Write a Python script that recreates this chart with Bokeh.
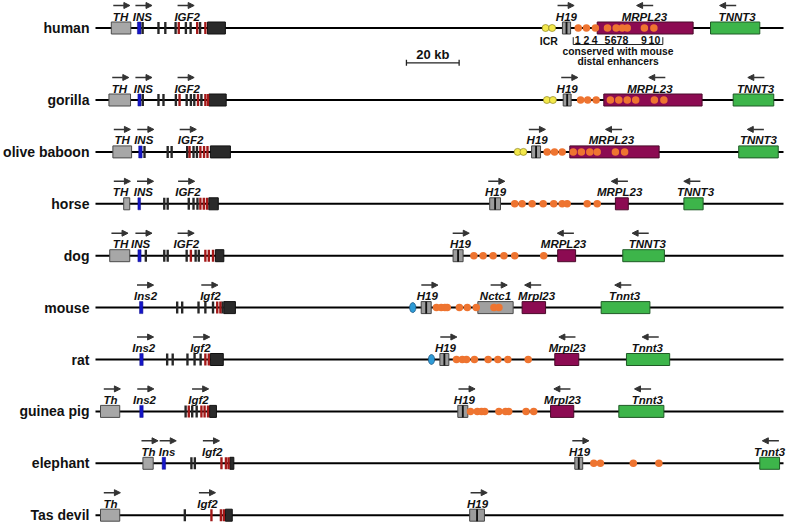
from bokeh.plotting import figure
from bokeh.models import Range1d, ColumnDataSource, Arrow, NormalHead
from bokeh.embed import file_html
from bokeh.resources import INLINE
from bokeh.core.properties import value

# ---------------- data (positions in kb from the left end of each locus) ----------------
species = ["human", "gorilla", "olive baboon", "horse", "dog",
           "mouse", "rat", "guinea pig", "elephant", "Tas devil"]
locus_len = 261.1
scale_kb = 20
scale_start = 118.0

th_start = [6.0, 5.1, 6.6, 10.7, 5.4, None, None, 1.9, 18.0, 1.9]
th_end   = [13.4, 13.3, 13.7, 13.0, 13.0, None, None, 9.2, 21.9, 9.2]
ins_start = [15.9, 16.1, 16.4, 16.1, 16.1, 16.7, 16.8, 16.8, 25.3, None]
ins_end   = [17.3, 17.3, 17.7, 17.1, 17.3, 18.0, 18.1, 18.1, 26.6, None]
igf2_last_start = [42.5, 43.0, 43.6, 43.0, 45.5, 48.7, 43.6, 43.3, 51.0, 49.3]
igf2_last_end   = [49.3, 49.6, 51.2, 46.6, 48.7, 53.1, 48.5, 45.9, 52.5, 51.9]
h19_start = [177.2, 177.5, 165.5, 149.6, 135.7, 123.6, 130.7, 137.5, 181.9, 142.0]
h19_end   = [180.3, 180.5, 168.9, 153.7, 139.5, 127.4, 134.1, 141.3, 184.9, 147.6]
mrpl23_start = [190.4, 192.9, 180.0, 197.3, 175.4, 161.9, 174.3, 172.7, None, None]
mrpl23_end   = [226.8, 230.2, 213.9, 202.2, 182.2, 170.8, 183.4, 181.5, None, None]
tnnt3_start = [233.4, 242.0, 244.1, 223.3, 200.1, 191.9, 201.5, 198.6, 252.1, None]
tnnt3_end   = [252.1, 257.4, 259.1, 230.6, 215.9, 210.4, 217.9, 215.7, 259.6, None]
nctc1_start = [None, None, None, None, None, 145.1, None, None, None, None]
nctc1_end   = [None, None, None, None, None, 158.5, None, None, None, None]

exon_black = [
    [17.9, 23.9, 26.5, 30.4, 34.3, 36.1, 39.7],
    [17.95, 23.9, 25.8, 30.5, 34.6, 36.2, 37.5, 40.2],
    [18.6, 27.4, 28.9, 34.8, 37.2, 38.5],
    [26.1, 27.4, 35.4, 37.2, 38.7],
    [19.1, 26.1, 27.4, 34.6, 38.0, 39.2],
    [31.0, 32.9, 39.1, 41.7, 44.6, 48.2],
    [27.2, 29.3, 34.9, 37.6, 39.9],
    [34.2, 36.7, 38.4],
    [36.4, 37.7],
    [33.9],
]
exon_red = [
    [31.6, 38.6, 41.7],
    [31.9, 38.9, 41.7, 42.7],
    [35.7, 39.8, 41.2, 42.5],
    [39.8, 41.1, 42.3],
    [36.2, 41.7, 43.0, 44.6],
    [46.2, 47.4],
    [41.7, 43.0],
    [35.4, 40.2, 41.4, 42.7],
    [47.8, 49.5, 50.5],
    [44.0, 47.6, 48.7],
]
enhancers = [
    [183.2, 186.3, 189.7, 194.3, 197.6, 199.9, 201.8, 208.3, 211.9],
    [184.1, 186.8, 190.0, 195.4, 198.6, 201.8, 205.0, 212.1, 215.7],
    [171.4, 174.2, 177.1, 181.3, 184.4, 187.6, 190.4, 197.3, 200.8],
    [159.1, 161.9, 165.7, 169.9, 173.9, 177.1, 179.0, 186.6, 190.4],
    [143.6, 147.1, 150.9, 155.0, 159.1, 170.1],
    [129.4, 131.2, 132.6, 133.5, 138.1, 141.1, 144.5, 151.2, 153.1],
    [137.0, 139.2, 140.8, 143.8, 149.0, 152.7, 156.5, 164.2],
    [142.3, 144.9, 146.5, 147.7, 153.1, 155.6, 156.8, 163.4, 166.3],
    [189.1, 191.6, 204.1, 213.8],
    [],
]
icr_sites = [[170.8, 173.3], [171.3, 173.6], [160.2, 162.4], [], [], [], [], [], [], []]
ctcf_site = [None, None, None, None, None, 120.4, 127.5, None, None, None]

enh_numbers = ["1", "2", "4", "5", "6", "7", "8", "9", "10"]
enh_number_x = [183.0, 186.3, 189.4, 194.3, 196.6, 198.8, 201.1, 208.1, 212.1]

# gene labels: (text, label centre, arrow centre, direction)
gene_labels = [
    [("TH", 9.5, 9.9, 1), ("INS", 17.8, 18.3, 1), ("IGF2", 34.8, 34.3, 1),
     ("H19", 178.7, 178.5, 1), ("MRPL23", 208.3, 208.5, -1), ("TNNT3", 243.5, 240.0, -1)],
    [("TH", 9.1, 9.5, 1), ("INS", 18.2, 18.3, 1), ("IGF2", 34.8, 34.3, 1),
     ("H19", 179.0, 179.9, 1), ("MRPL23", 210.4, 213.1, -1), ("TNNT3", 250.5, 250.7, -1)],
    [("TH", 10.1, 10.1, 1), ("INS", 18.3, 19.0, 1), ("IGF2", 36.1, 35.1, 1),
     ("H19", 167.6, 167.6, 1), ("MRPL23", 195.8, 196.7, -1), ("TNNT3", 251.6, 250.5, -1)],
    [("TH", 9.5, 10.1, 1), ("INS", 18.2, 18.9, 1), ("IGF2", 35.1, 34.5, 1),
     ("H19", 151.8, 152.2, 1), ("MRPL23", 198.9, 198.9, -1), ("TNNT3", 227.7, 226.4, -1)],
    [("TH", 9.5, 9.2, 1), ("INS", 17.1, 18.3, 1), ("IGF2", 34.5, 34.3, 1),
     ("H19", 138.5, 138.7, 1), ("MRPL23", 177.6, 178.4, -1), ("TNNT3", 209.4, 206.8, -1)],
    [("Ins2", 19.0, 18.9, 1), ("Igf2", 43.6, 43.3, 1), ("H19", 125.9, 126.8, 1),
     ("Nctc1", 151.8, 153.1, 1), ("Mrpl23", 167.4, 166.0, -1), ("Tnnt3", 200.8, 200.2, -1)],
    [("Ins2", 18.3, 18.9, 1), ("Igf2", 39.8, 40.2, 1), ("H19", 132.8, 134.0, 1),
     ("Mrpl23", 179.0, 179.0, -1), ("Tnnt3", 209.4, 210.6, -1)],
    [("Th", 5.7, 6.3, 1), ("Ins2", 18.6, 19.0, 1), ("Igf2", 39.1, 39.8, 1),
     ("H19", 140.0, 140.9, 1), ("Mrpl23", 177.2, 177.1, -1), ("Tnnt3", 209.4, 207.7, -1)],
    [("Th", 20.1, 20.6, 1), ("Ins", 27.2, 27.5, 1), ("Igf2", 44.3, 43.9, 1),
     ("H19", 183.7, 184.1, 1), ("Tnnt3", 255.8, 256.2, -1)],
    [("Th", 5.7, 6.3, 1), ("Igf2", 42.5, 42.4, 1), ("H19", 145.0, 145.5, 1)],
]

# ---------------- layout ----------------
row_y = [27.5] + [99.5 + 51.9 * i for i in range(9)]
BOX_H = 6.0
LABEL_DY = 11.5
ARROW_DY = 22.5
ARROW_LEN = 6.3
FONT = value("Liberation Sans")

p = figure(width=796, height=524, x_range=Range1d(-36.05, 266.03), y_range=Range1d(524, 0),
           output_backend="svg", toolbar_location=None, x_axis_type=None, y_axis_type=None,
           min_border=0, outline_line_color=None)
p.grid.visible = False
p.background_fill_color = "white"

# locus lines
p.segment(x0=[0] * 10, y0=row_y, x1=[locus_len] * 10, y1=row_y, line_color="black", line_width=2)


def boxes(starts, ends, fill, line, lw=1):
    L, R, T, B = [], [], [], []
    for i, (s, e) in enumerate(zip(starts, ends)):
        if s is None:
            continue
        L.append(s); R.append(e); T.append(row_y[i] - BOX_H); B.append(row_y[i] + BOX_H)
    p.quad(left=L, right=R, top=T, bottom=B, fill_color=fill, line_color=line, line_width=lw)


boxes(th_start, th_end, "#A7A7A7", "#4a4a4a")
boxes(ins_start, ins_end, "#1515C8", "#10108a", 0.5)
boxes(igf2_last_start, igf2_last_end, "#2a2a2a", "#111111")
boxes(h19_start, h19_end, "#9c9c9c", "#444444")
boxes(nctc1_start, nctc1_end, "#A0A0A0", "#4a4a4a")
boxes(mrpl23_start, mrpl23_end, "#8C0B52", "#4a0a2a")
boxes(tnnt3_start, tnnt3_end, "#3DB54A", "#1f5a26")

# H19 inner stripe
hs_x = [(s + e) / 2 for s, e in zip(h19_start, h19_end)]
p.quad(left=[x - 0.35 for x in hs_x], right=[x + 0.35 for x in hs_x],
       top=[y - BOX_H for y in row_y], bottom=[y + BOX_H for y in row_y],
       fill_color="#111111", line_color=None)

# thin exons
EW = 0.45
for col, data in (("#262626", exon_black), ("#A31818", exon_red)):
    L, R, T, B = [], [], [], []
    for i, xs in enumerate(data):
        for x in xs:
            L.append(x - EW); R.append(x + EW); T.append(row_y[i] - BOX_H); B.append(row_y[i] + BOX_H)
    p.quad(left=L, right=R, top=T, bottom=B, fill_color=col, line_color=None)

# enhancer dots
dx, dy = [], []
for i, xs in enumerate(enhancers):
    for x in xs:
        dx.append(x); dy.append(row_y[i])
p.scatter(x=dx, y=dy, size=7.5, fill_color="#EE7430", line_color=None)

# ICR dots
ix, iy = [], []
for i, xs in enumerate(icr_sites):
    for x in xs:
        ix.append(x); iy.append(row_y[i])
p.scatter(x=ix, y=iy, size=7, fill_color="#F3E84C", line_color="#8c8420", line_width=0.7)

# CTCF oval
ox = [x for x in ctcf_site if x is not None]
oy = [row_y[i] for i, x in enumerate(ctcf_site) if x is not None]
p.ellipse(x=ox, y=oy, width=2.4, height=10, fill_color="#2E9BD6", line_color="#1a4f7a", line_width=0.7)

# species names
p.text(x=[-2.3] * 10, y=row_y, text=species, text_align="right", text_baseline="middle",
       text_font=FONT, text_font_style="bold", text_font_size="14px", text_color="#111111")

# gene labels and arrows
lx, ly, lt, ax0, ax1, ay = [], [], [], [], [], []
for i, labs in enumerate(gene_labels):
    for (t, xl, xa, d) in labs:
        lx.append(xl); ly.append(row_y[i] - LABEL_DY); lt.append(t)
        ax0.append(xa - d * ARROW_LEN / 2); ax1.append(xa + d * ARROW_LEN / 2); ay.append(row_y[i] - ARROW_DY)
p.text(x=lx, y=ly, text=lt, text_align="center", text_baseline="middle",
       text_font=FONT, text_font_style="bold italic", text_font_size="11.5px", text_color="#111111")
asrc = ColumnDataSource(dict(x0=ax0, x1=ax1, y=ay))
p.add_layout(Arrow(x_start="x0", y_start="y", x_end="x1", y_end="y", source=asrc,
                   line_color="#333333", line_width=1.5,
                   end=NormalHead(size=6, fill_color="#333333", line_color="#333333", line_width=1)))

# human annotations: ICR, enhancer numbers, bracket, caption
hy = row_y[0]
p.text(x=[sum(icr_sites[0]) / 2], y=[hy + 12.5], text=["ICR"], text_align="center", text_baseline="middle",
       text_font=FONT, text_font_style="bold", text_font_size="10.5px", text_color="#111111")
p.text(x=enh_number_x, y=[hy + 12.0] * len(enh_numbers), text=enh_numbers, text_align="center",
       text_baseline="middle", text_font=FONT, text_font_style="bold", text_font_size="10.5px",
       text_color="#111111")
bl = min(enhancers[0]) - 1.9
br = max(enhancers[0]) + 3.4
p.line(x=[bl, bl, br, br], y=[hy + 9.2, hy + 16.5, hy + 16.5, hy + 9.2], line_color="#222222", line_width=1)
cap_x = (bl + br) / 2
p.text(x=[cap_x, cap_x], y=[hy + 23.5, hy + 33.2], text=["conserved with mouse", "distal enhancers"],
       text_align="center", text_baseline="middle", text_font=FONT, text_font_style="bold",
       text_font_size="10.3px", text_color="#111111")

# scale bar
sy = 62.3
p.line(x=[scale_start, scale_start + scale_kb], y=[sy, sy], line_color="#222222", line_width=1.3)
p.segment(x0=[scale_start, scale_start + scale_kb], y0=[sy - 3, sy - 3],
          x1=[scale_start, scale_start + scale_kb], y1=[sy + 3, sy + 3], line_color="#222222", line_width=1.3)
p.text(x=[scale_start + scale_kb / 2], y=[sy - 8.0], text=["%d kb" % scale_kb], text_align="center",
       text_baseline="middle", text_font=FONT, text_font_style="bold", text_font_size="13px",
       text_color="#111111")

open("out.html", "w").write(file_html(p, INLINE))
